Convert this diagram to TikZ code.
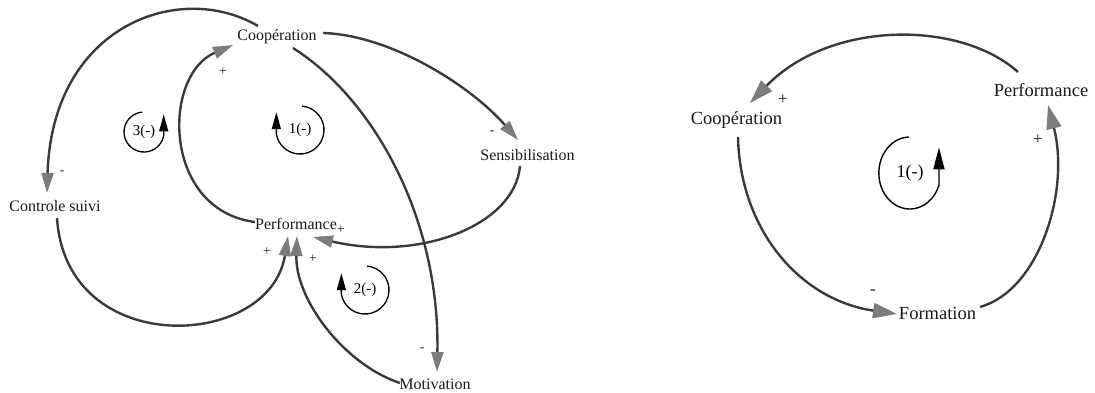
\documentclass[tikz,border=0pt]{standalone}
\usepackage{fontspec}
\setmainfont{Liberation Serif}
\usetikzlibrary{arrows.meta}
\definecolor{lnc}{HTML}{3A3A3A}
\definecolor{ahc}{HTML}{7C7C7C}
\tikzset{
  var/.style={inner sep=0pt, text=black!90, font=\fontsize{16}{18}\selectfont},
  varR/.style={inner sep=0pt, text=black!90, font=\fontsize{18.5}{20}\selectfont},
  conn/.style={draw=lnc, line width=2.4pt, -{Triangle[length=20pt,width=12pt,color=ahc]}},
  connR/.style={draw=lnc, line width=2.4pt, -{Triangle[length=24pt,width=15pt,color=ahc]}},
  sgn/.style={inner sep=0pt, text=black!90, font=\fontsize{13.5}{13.5}\selectfont},
  sgnR/.style={inner sep=0pt, text=black!90, font=\fontsize{17}{17}\selectfont},
  looplbl/.style={inner sep=0pt, font=\fontsize{15}{15}\selectfont},
  looplblR/.style={inner sep=0pt, font=\fontsize{18}{18}\selectfont},
  loopln/.style={draw=black, line width=1.3pt, -{Triangle[length=17pt,width=9pt]}},
  looplnR/.style={draw=black, line width=1.4pt, -{Triangle[length=22pt,width=11pt]}},
}
\begin{document}
\begin{tikzpicture}[x=1pt,y=-1pt]
\useasboundingbox (0,0) rectangle (1095,392);

% ---------- left diagram: variables ----------
\node[var] (coopL) at (277,37) {Coopération};
\node[var] (sens)  at (527.5,155) {Sensibilisation};
\node[var] (ctrl)  at (55,206) {Controle suivi};
\node[var] (perfL) at (296,224) {Performance};
\node[var] (motiv) at (435,384) {Motivation};

% ---------- left diagram: connectors ----------
\draw[conn] ([xshift=-19pt,yshift=11pt]coopL.center) .. controls (180,-20) and (52,25) .. ([xshift=-8pt,yshift=13pt]ctrl.center);
\draw[conn] ([xshift=-41pt,yshift=2pt]perfL.center) .. controls (162,210) and (162,75) .. ([xshift=-44pt,yshift=-8pt]coopL.center);
\draw[conn] ([xshift=46pt,yshift=4pt]coopL.center) .. controls (390,35) and (470,85) .. ([xshift=-9.5pt,yshift=15pt]sens.center);
\draw[conn] ([xshift=16pt,yshift=-11pt]coopL.center) .. controls (375,100) and (440,220) .. ([xshift=2pt,yshift=12pt]motiv.center);
\draw[conn] ([xshift=-7.5pt,yshift=-11pt]sens.center) .. controls (515,225) and (420,262) .. ([xshift=17pt,yshift=-13pt]perfL.center);
\draw[conn] ([xshift=2pt,yshift=-12pt]ctrl.center) .. controls (66,360) and (270,350) .. ([xshift=-8pt,yshift=-12pt]perfL.center);
\draw[conn] ([xshift=-35pt,yshift=1pt]motiv.center) .. controls (345,365) and (295,300) .. ([xshift=1pt,yshift=-12pt]perfL.center);

% ---------- left diagram: polarity signs ----------
\node[sgn] (s1) at (62,173) {-};
\node[sgn] (s2) at (223,72) {+};
\node[sgn] (s3) at (492,133) {-};
\node[sgn] (s4) at (341,230) {+};
\node[sgn] (s5) at (267,252) {+};
\node[sgn] (s6) at (313,259) {+};
\node[sgn] (s7) at (422,350) {-};

% ---------- left diagram: loop markers ----------
\node[looplbl] (l3) at (144,132) {3(-)};
\draw[loopln] ([shift={(265:20)}]l3.center) arc[start angle=265, end angle=10, radius=20] -- ++(0,-21);
\node[looplbl] (l1) at (300,130) {1(-)};
\draw[loopln] ([shift={(-85:24)}]l1.center) arc[start angle=-85, end angle=170, radius=24] -- ++(0,-22);
\node[looplbl] (l2) at (365,290) {2(-)};
\draw[loopln] ([shift={(-85:24)}]l2.center) arc[start angle=-85, end angle=170, radius=24] -- ++(0,-21);

% ---------- right diagram ----------
\node[varR] (coopR) at (736.5,120) {Coopération};
\node[varR] (perfR) at (1041,90) {Performance};
\node[varR] (form)  at (937.5,313) {Formation};

\draw[connR] ([xshift=-23pt,yshift=18pt]perfR.center) .. controls (960,20) and (830,20) .. ([xshift=13.5pt,yshift=17pt]coopR.center);
\draw[connR] ([xshift=1.5pt,yshift=-17pt]coopR.center) .. controls (740,230) and (800,300) .. ([xshift=-40.5pt,yshift=-1pt]form.center);
\draw[connR] ([xshift=42.5pt,yshift=6pt]form.center) .. controls (1040,290) and (1070,190) .. ([xshift=7pt,yshift=-15pt]perfR.center);

\node[sgnR] (r1) at (783,100) {+};
\node[sgnR] (r2) at (1038,140) {+};
\node[sgnR] (r3) at (873,292) {-};

\node[looplblR] (lr) at (910,173) {1(-)};
\draw[looplnR] ([shift={(268:36)}]lr.center) arc[start angle=268, end angle=20, x radius=31, y radius=36] -- ++(0,-38);
\end{tikzpicture}
\end{document}
